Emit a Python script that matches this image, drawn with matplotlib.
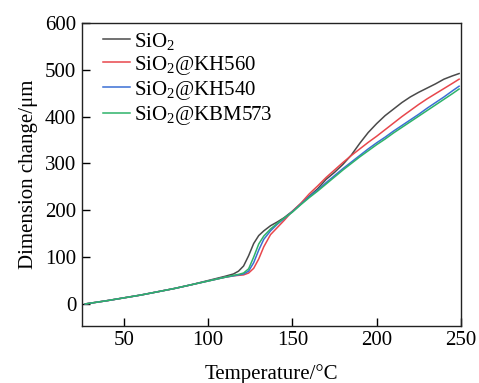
import numpy as np
import matplotlib
matplotlib.use("Agg")
import matplotlib.pyplot as plt

plt.rcParams['font.family'] = ['Liberation Serif', 'DejaVu Serif']
plt.rcParams['mathtext.fontset'] = 'custom'
plt.rcParams['mathtext.rm'] = 'Liberation Serif'
plt.rcParams['mathtext.it'] = 'Liberation Serif:italic'

# temperatures (°C)
temp = [27, 40, 50, 60, 70, 80, 90, 100, 110, 115, 118, 121, 124, 127, 130,
        133, 137, 141, 145, 150, 155, 160, 165, 170, 175, 180, 185, 190, 195,
        200, 205, 210, 215, 220, 225, 230, 235, 240, 245, 249]

# dimension change (um)
sio2 = [0, 7, 13, 19, 26, 33, 41, 50, 59, 64, 70, 81, 103, 129, 146,
        156, 167, 175, 184, 198, 214, 230, 246, 266, 281, 298, 318, 343, 366,
        385, 402, 416, 430, 442, 452, 461, 470, 480, 487, 492]
kh560 = [0, 7, 13, 19, 26, 33, 41, 49, 57, 60, 61, 62, 66, 76, 96,
         122, 148, 163, 178, 198, 215, 235, 252, 270, 286, 302, 317, 331, 345,
         358, 372, 386, 400, 413, 426, 438, 449, 460, 471, 480]
kh540 = [0, 7, 13, 19, 26, 33, 41, 49, 57, 60, 62, 64, 70, 88, 115,
         138, 156, 170, 182, 197, 213, 229, 243, 259, 274, 289, 303, 317, 331,
         344, 356, 369, 381, 393, 405, 418, 430, 442, 455, 465]
kbm573 = [0, 7, 13, 19, 26, 33, 41, 49, 57, 61, 63, 66, 75, 100, 128,
          145, 160, 172, 183, 196, 212, 227, 241, 256, 271, 286, 300, 314, 327,
          340, 352, 365, 377, 389, 401, 413, 425, 437, 449, 459]

labels = ['SiO$_2$', 'SiO$_2$@KH560', 'SiO$_2$@KH540', 'SiO$_2$@KBM573']
colors = ['#4a4a4a', '#e8474c', '#3b6fd4', '#2eb36a']

fig, ax = plt.subplots(figsize=(4.79, 3.83), dpi=100)
fig.subplots_adjust(left=0.171, right=0.962, top=0.940, bottom=0.149)

for ys, lab, c in zip([sio2, kh560, kh540, kbm573], labels, colors):
    ax.plot(temp, ys, color=c, lw=1.1, label=lab)

ax.set_xlim(25, 250)
ax.set_ylim(-47, 600)
ax.set_xticks([50, 100, 150, 200, 250])
ax.set_yticks([0, 100, 200, 300, 400, 500, 600])
ax.tick_params(direction='in', length=6, width=1, labelsize=15, top=False, right=False, pad=4)
for s in ax.spines.values():
    s.set_linewidth(1.0)
    s.set_color('#222222')

ax.set_xlabel('Temperature/°C', fontsize=15, labelpad=10)
ax.set_ylabel('Dimension change/μm', fontsize=15, labelpad=5)

ax.legend(loc='upper left', frameon=False, fontsize=15, handlelength=1.3,
          handletextpad=0.2, labelspacing=0.1, borderaxespad=0, borderpad=0,
          bbox_to_anchor=(0.055, 0.975))

fig.savefig('out.png', dpi=100)
